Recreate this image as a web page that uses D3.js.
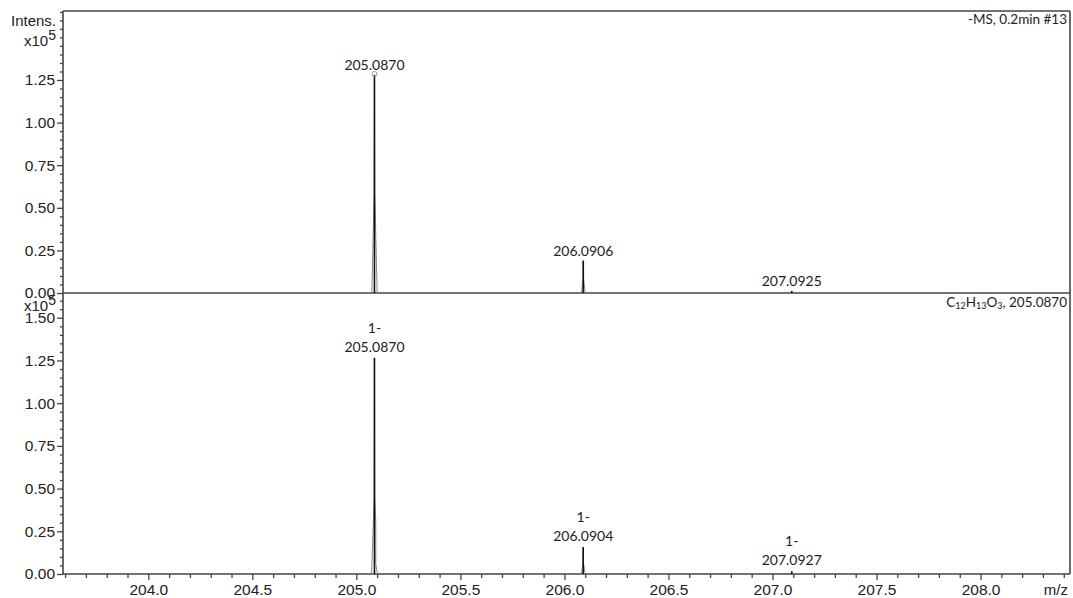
<!DOCTYPE html>
<html><head><meta charset="utf-8">
<script src="https://cdn.jsdelivr.net/npm/d3@7"></script>
<style>
body{margin:0;background:#fff;}
svg{display:block;}
</style></head>
<body>
<svg id="c" width="1073" height="598"></svg>
<script>
// ---- data ----
const xMajorTicks = [204.0, 204.5, 205.0, 205.5, 206.0, 206.5, 207.0, 207.5, 208.0];
const yTicksTop = [0, 0.25, 0.5, 0.75, 1.0, 1.25];
const yTicksBottom = [0, 0.25, 0.5, 0.75, 1.0, 1.25, 1.5];
// measured spectrum (x10^5)
const measuredMz = [205.0870, 206.0906, 207.0925];
const measuredInt = [1.28, 0.19, 0.012];
const measuredLabels = ["205.0870", "206.0906", "207.0925"];
const measuredProfile = [
  [[205.0745,0],[205.0855,0.59],[205.0870,1.28],[205.0885,0.59],[205.1000,0]],
  [[206.0810,0],[206.0890,0.08],[206.0906,0.19],[206.0922,0.08],[206.1000,0]],
  [[207.0890,0],[207.0925,0.012],[207.0960,0]]
];
// simulated pattern C12H13O3
const simMz = [205.0870, 206.0904, 207.0927];
const simInt = [1.265, 0.158, 0.015];
const simLabels = ["205.0870", "206.0904", "207.0927"];
const simProfile = [
  [[205.0730,0],[205.0855,0.45],[205.0870,1.265],[205.0885,0.45],[205.0935,0.30],[205.0935,0.06],[205.1010,0]],
  [[206.0810,0],[206.0888,0.06],[206.0904,0.158],[206.0920,0.06],[206.1000,0]],
  [[207.0890,0],[207.0927,0.015],[207.0965,0]]
];

// ---- layout ----
const svg = d3.select("#c");
const L = 63, R = 1070, T = 11, MID = 293, B = 574;
const x = d3.scaleLinear().domain([203.59, 208.43]).range([L, R]);
const yTop = d3.scaleLinear().domain([0, 1.655]).range([MID, T]);
const yBot = d3.scaleLinear().domain([0, 1.645]).range([B, MID]);
const axisColor = "#444";
const font = "'Liberation Sans', Arial, sans-serif";
const lblFont = "Lato, 'Open Sans', sans-serif";

function yAxis(y, majors, maxV) {
  const g = svg.append("g").attr("transform", `translate(${L},0)`);
  const minors = d3.range(0, maxV + 1e-9, 0.05).filter(v => !majors.some(m => Math.abs(m - v) < 1e-6));
  g.append("g").call(d3.axisLeft(y).tickValues(minors).tickSize(3).tickFormat(""))
    .call(s => s.select(".domain").remove());
  g.append("g").call(d3.axisLeft(y).tickValues(majors).tickSize(6).tickPadding(2).tickFormat(d3.format(".2f")))
    .call(s => s.select(".domain").remove());
  g.selectAll("line").attr("stroke", axisColor).attr("stroke-width", 1.3);
  g.selectAll("text").attr("font-family", font).attr("font-size", 15.5).attr("fill", "#222");
}
yAxis(yTop, yTicksTop, 1.65);
yAxis(yBot, yTicksBottom, 1.60);

// x axis bottom
const gx = svg.append("g").attr("transform", `translate(0,${B})`);
const xMinors = d3.range(203.6, 208.45, 0.1).filter(v => !xMajorTicks.some(m => Math.abs(m - v) < 1e-6));
gx.append("g").call(d3.axisBottom(x).tickValues(xMinors).tickSize(4).tickFormat(""))
  .call(s => s.select(".domain").remove());
gx.append("g").call(d3.axisBottom(x).tickValues(xMajorTicks).tickSize(6).tickPadding(4).tickFormat(d3.format(".1f")))
  .call(s => s.select(".domain").remove());
gx.selectAll("line").attr("stroke", axisColor).attr("stroke-width", 1.3);
gx.selectAll("text").attr("font-family", font).attr("font-size", 15.5).attr("fill", "#222");

// frame
const frame = svg.append("g").attr("fill", "none").attr("stroke", axisColor).attr("stroke-width", 1.6);
frame.append("line").attr("x1", L).attr("x2", R).attr("y1", T).attr("y2", T);
frame.append("line").attr("x1", L).attr("x2", L).attr("y1", T).attr("y2", B);
frame.append("line").attr("x1", R).attr("x2", R).attr("y1", T).attr("y2", B);
frame.append("line").attr("x1", L).attr("x2", R).attr("y1", MID).attr("y2", MID);
frame.append("line").attr("x1", L).attr("x2", R).attr("y1", B).attr("y2", B);

// axis titles
svg.append("text").attr("x", 56).attr("y", 26).attr("text-anchor", "end")
  .attr("font-family", font).attr("font-size", 15).attr("fill", "#222").text("Intens.");
function x10(yb) {
  const t = svg.append("text").attr("x", 56).attr("y", yb).attr("text-anchor", "end")
    .attr("font-family", font).attr("font-size", 15).attr("fill", "#222");
  t.append("tspan").text("x10");
  t.append("tspan").attr("dy", -6).attr("font-size", 14).text("5");
}
x10(46);
x10(311);
svg.append("text").attr("x", 1068).attr("y", 595).attr("text-anchor", "end")
  .attr("font-family", font).attr("font-size", 15).attr("fill", "#222").text("m/z");

// panel titles
svg.append("text").attr("x", 1067).attr("y", 24).attr("text-anchor", "end")
  .attr("font-family", lblFont).attr("font-size", 13.5).attr("fill", "#222").text("-MS, 0.2min #13");
const ft = svg.append("text").attr("x", 1067).attr("y", 307).attr("text-anchor", "end")
  .attr("font-family", lblFont).attr("font-size", 13.5).attr("fill", "#222");
ft.append("tspan").text("C");
ft.append("tspan").attr("font-size", 9).attr("dy", 2).text("12");
ft.append("tspan").attr("dy", -2).text("H");
ft.append("tspan").attr("font-size", 9).attr("dy", 2).text("13");
ft.append("tspan").attr("dy", -2).text("O");
ft.append("tspan").attr("font-size", 9).attr("dy", 2).text("3");
ft.append("tspan").attr("dy", -2).text(", 205.0870");

// peaks
const line = (y) => d3.line().x(d => x(d[0])).y(d => y(d[1]));
function drawPeaks(y, mz, inten, profiles, labels, charge) {
  const g = svg.append("g");
  profiles.forEach(p => {
    g.append("path").attr("d", line(y)(p)).attr("fill", "none").attr("stroke", "#888").attr("stroke-width", 1);
  });
  mz.forEach((m, i) => {
    g.append("line").attr("x1", x(m)).attr("x2", x(m)).attr("y1", y(0)).attr("y2", y(inten[i]))
      .attr("stroke", "#111").attr("stroke-width", 1.6);
    const t = g.append("text").attr("x", x(m)).attr("text-anchor", "middle")
      .attr("font-family", lblFont).attr("font-size", 14).attr("fill", "#222");
    const top = y(inten[i]);
    if (charge) {
      t.attr("y", top - 25);
      t.append("tspan").attr("x", x(m)).text(charge);
      t.append("tspan").attr("x", x(m)).attr("dy", 19).text(labels[i]);
    } else {
      t.attr("y", top - 5).text(labels[i]);
    }
  });
}
drawPeaks(yTop, measuredMz, measuredInt, measuredProfile, measuredLabels, null);
drawPeaks(yBot, simMz, simInt, simProfile, simLabels, "1-");
// marker circle at main measured peak apex
svg.append("circle").attr("cx", x(measuredMz[0])).attr("cy", yTop(measuredInt[0]) - 1).attr("r", 2.5)
  .attr("fill", "none").attr("stroke", "#999").attr("stroke-width", 1);
</script>
</body></html>
